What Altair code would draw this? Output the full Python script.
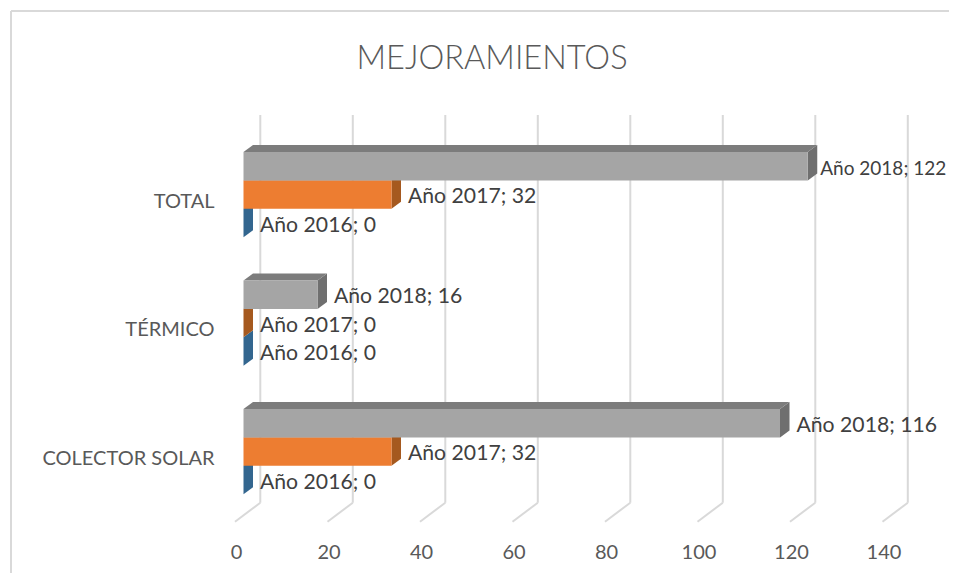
import altair as alt
import pandas as pd

CHART_TITLE = "MEJORAMIENTOS"
CATEGORIES = ["COLECTOR SOLAR", "TÉRMICO", "TOTAL"]
SERIES = ["Año 2016", "Año 2017", "Año 2018"]
VALUES_2016 = [0, 0, 0]
VALUES_2017 = [32, 0, 32]
VALUES_2018 = [116, 16, 122]
X_TICKS = [0, 20, 40, 60, 80, 100, 120, 140]

FRONT = {"Año 2016": "#5b9bd5", "Año 2017": "#ed7d31", "Año 2018": "#a5a5a5"}
SIDE = {"Año 2016": "#33668f", "Año 2017": "#a5591f", "Año 2018": "#6f6f6f"}
TOP = {"Año 2016": "#3f77a8", "Año 2017": "#b8622a", "Año 2018": "#7c7c7c"}
GRID = "#d9d9d9"

W, H = 941, 565
BOTTOM = 8 + H
PX_X = 92.5 / 20          # pixels per value
PX_Y = 128.5              # pixels per category
DX = 9.5 / PX_X           # depth in x units
DY = 7 / PX_Y             # depth in y units
BAR_H = 28.4 / PX_Y
BAR_TOP = 49 / PX_Y       # top of first (upper) bar above category centre
X_DOM = [(8 - 243.5) / PX_X, (8 + W - 243.5) / PX_X]
Y_DOM = [0 - (BOTTOM - 458) / PX_Y, 2 + (201 - 8) / PX_Y]

sides, tops, fronts, labels = [], [], [], []
for s, vals in zip(SERIES, [VALUES_2016, VALUES_2017, VALUES_2018]):
    rank = 2 - SERIES.index(s)
    for c, v in enumerate(vals):
        yt = c + BAR_TOP - rank * BAR_H
        yb = yt - BAR_H
        k = f"{s}-{c}"
        sides += [
            dict(k=k, x=v, y=yt, y2=yb, fill=SIDE[s], r=rank),
            dict(k=k, x=v + DX, y=yt + DY, y2=yb + DY, fill=SIDE[s], r=rank),
        ]
        if v > DX:
            tops += [
                dict(k=k, x=0, y=yt, y2=yt, fill=TOP[s]),
                dict(k=k, x=DX, y=yt + DY, y2=yt, fill=TOP[s]),
                dict(k=k, x=v, y=yt + DY, y2=yt, fill=TOP[s]),
                dict(k=k, x=v + DX, y=yt + DY, y2=yt + DY, fill=TOP[s]),
            ]
        if v > 0:
            fronts.append(dict(x=0, x2=v, y=yt, y2=yb, fill=FRONT[s]))
        labels.append(dict(x=v, y=(yt + yb) / 2, t=f"{s}; {v}"))

grid = pd.DataFrame([dict(x=t + 16.8 / PX_X, y=(BOTTOM - 502.7) / PX_Y + Y_DOM[0], y2=(BOTTOM - 115) / PX_Y + Y_DOM[0]) for t in X_TICKS])
floor = pd.DataFrame([dict(x=t + 16.8 / PX_X, x2=t - 8.5 / PX_X, y=(BOTTOM - 502.7) / PX_Y + Y_DOM[0], y2=(BOTTOM - 521.7) / PX_Y + Y_DOM[0]) for t in X_TICKS])

x_scale = alt.Scale(domain=X_DOM, nice=False, zero=False)
y_scale = alt.Scale(domain=Y_DOM, nice=False, zero=False)

label_expr = "[" + ",".join(f"'{c}'" for c in CATEGORIES) + "][datum.value]"

x_enc = alt.X("x:Q", scale=x_scale, axis=alt.Axis(
    values=X_TICKS, title=None, domain=False, ticks=False, grid=False,
    labelFontSize=20, labelFont="Lato", labelColor="#595959", labelOffset=-7.5,
    labelFlush=False, labelPadding=0, offset=-21, labelBaseline="middle", labelOverlap=False))
y_enc = alt.Y("y:Q", scale=y_scale, stack=None, axis=alt.Axis(
    values=[0, 1, 2], title=None, domain=False, ticks=False, grid=False,
    labelExpr=label_expr, labelFontSize=20, labelFont="Lato", labelColor="#595959",
    labelPadding=0, offset=-206, labelBaseline="middle", labelFlush=False, labelOverlap=False))

grid_layer = alt.Chart(grid).mark_rule(color=GRID, strokeWidth=2).encode(x=x_enc, y=y_enc, y2="y2:Q")
floor_layer = alt.Chart(floor).mark_rule(color=GRID, strokeWidth=2).encode(
    x=alt.X("x:Q", scale=x_scale), x2="x2:Q", y=alt.Y("y:Q", scale=y_scale), y2="y2:Q")

side_layer = alt.Chart(pd.DataFrame(sides)).mark_area(interpolate="linear").encode(
    x=alt.X("x:Q", scale=x_scale), y=alt.Y("y:Q", scale=y_scale, stack=None), y2="y2:Q",
    detail="k:N", color=alt.Color("fill:N", scale=None))
top_layer = alt.Chart(pd.DataFrame(tops)).mark_area(interpolate="linear").encode(
    x=alt.X("x:Q", scale=x_scale), y=alt.Y("y:Q", scale=y_scale, stack=None), y2="y2:Q",
    detail="k:N", color=alt.Color("fill:N", scale=None))
front_layer = alt.Chart(pd.DataFrame(fronts)).mark_rect().encode(
    x=alt.X("x:Q", scale=x_scale), x2="x2:Q", y=alt.Y("y:Q", scale=y_scale), y2="y2:Q",
    color=alt.Color("fill:N", scale=None))

label_df = pd.DataFrame(labels)
label_layer = alt.Chart(label_df[label_df.x <= 120]).mark_text(
    align="left", baseline="middle", dx=16.5, dy=2.5, font="Lato", fontSize=21.2, color="#404040"
).encode(x=alt.X("x:Q", scale=x_scale), y=alt.Y("y:Q", scale=y_scale), text="t:N")
# The longest label runs to the page edge: slightly smaller so that it stays whole.
edge_label_layer = alt.Chart(label_df[label_df.x > 120]).mark_text(
    align="left", baseline="middle", dx=12.5, dy=2.5, font="Lato", fontSize=19, color="#404040"
).encode(x=alt.X("x:Q", scale=x_scale), y=alt.Y("y:Q", scale=y_scale), text="t:N")

frame_top = alt.Chart(pd.DataFrame({"a": [0]})).mark_rule(color=GRID, strokeWidth=2).encode(
    x=alt.value(3), x2=alt.value(W), y=alt.value(3))
frame_left = alt.Chart(pd.DataFrame({"a": [0]})).mark_rule(color=GRID, strokeWidth=2).encode(
    x=alt.value(3), y=alt.value(3), y2=alt.value(H))

chart = alt.layer(
    frame_top, frame_left, grid_layer, floor_layer, side_layer, top_layer, front_layer,
    label_layer, edge_label_layer
).properties(
    width=W, height=H, padding=0, autosize=alt.AutoSizeParams(type="none"),
    title=alt.TitleParams(CHART_TITLE, anchor="middle", frame="group", font="Lato", fontSize=32.6,
                          fontWeight=300, color="#595959", dx=13.5, dy=68, offset=0),
).configure_view(stroke=None)

chart.save("out.html", embed_options={"renderer": "svg", "actions": False})
